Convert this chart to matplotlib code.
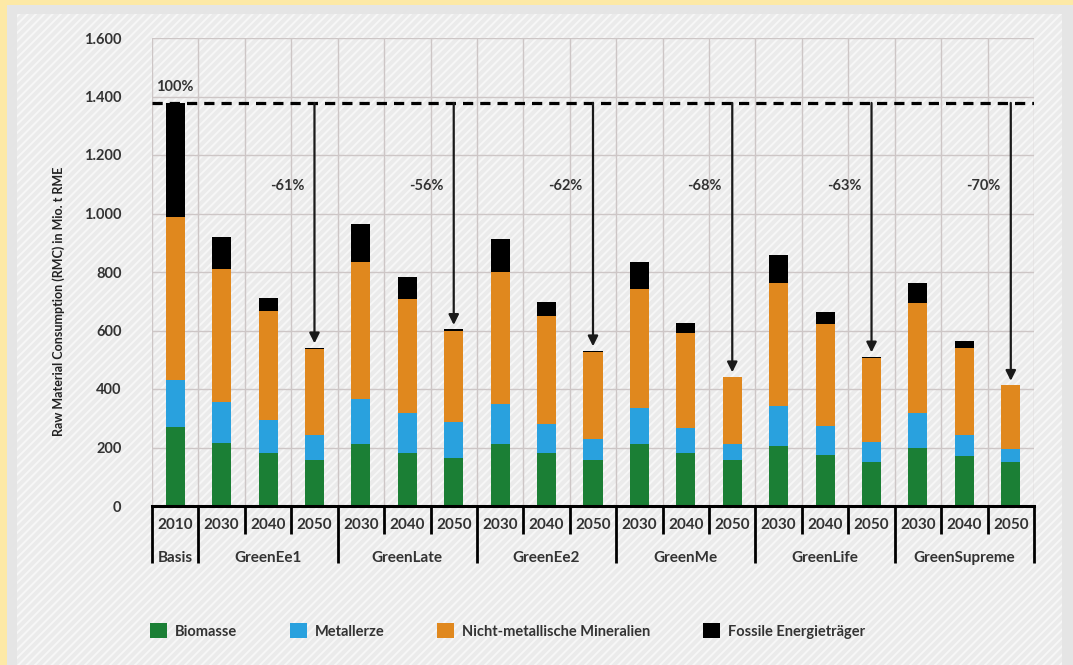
import numpy as np
import matplotlib
matplotlib.use('Agg')
import matplotlib.pyplot as plt
from matplotlib.patches import Rectangle, Patch
from matplotlib.transforms import blended_transform_factory

plt.rcParams['font.family'] = ['Lato', 'DejaVu Sans']
plt.rcParams['hatch.linewidth'] = 1.4

# Daten, Mio. t RME
groups = ['Basis', 'GreenEe1', 'GreenLate', 'GreenEe2', 'GreenMe', 'GreenLife', 'GreenSupreme']
group_sizes = [1, 3, 3, 3, 3, 3, 3]
years = ['2010'] + ['2030', '2040', '2050'] * 6

biomasse = [271, 214, 182, 157, 212, 182, 163, 212, 182, 157, 212, 182, 157, 206, 175, 150, 200, 171, 150]
metallerze = [160, 143, 112, 86, 155, 135, 124, 137, 98, 72, 124, 86, 55, 136, 98, 69, 117, 73, 44]
mineralien = [558, 452, 374, 293, 466, 392, 312, 452, 371, 297, 405, 322, 230, 421, 348, 286, 378, 297, 219]
fossile = [389, 110, 42, 5, 130, 73, 5, 111, 47, 5, 92, 37, 0, 94, 43, 5, 68, 24, 0]

reductions = ['-61%', '-56%', '-62%', '-68%', '-63%', '-70%']
base_label = '100%'
yticks = [0, 200, 400, 600, 800, 1000, 1200, 1400, 1600]
ytick_labels = ['0', '200', '400', '600', '800', '1.000', '1.200', '1.400', '1.600']

series_names = ['Biomasse', 'Metallerze', 'Nicht-metallische Mineralien', 'Fossile Energieträger']
colors = ['#1b7f35', '#29a1de', '#e0881e', '#000000']
text_col = '#333333'

W, H = 1073, 665
fig = plt.figure(figsize=(W / 100, H / 100), dpi=100)
fig.patch.set_facecolor('#fde9a6')

# Hintergrund: grauer Rahmen + schraffierte Fläche
fig.patches.append(Rectangle((7 / W, 0), 1, 1 - 5 / H, transform=fig.transFigure,
                             facecolor='#e5e5e5', edgecolor='none', zorder=-20))
fig.patches.append(Rectangle((17 / W, 0), (1062 - 17) / W, 1 - 14 / H, transform=fig.transFigure,
                             facecolor='#ebebeb', edgecolor='#f7f7f7', lw=0, hatch='////', zorder=-19))

ax = fig.add_axes([152 / W, 1 - 506 / H, (1034 - 152) / W, (506 - 38) / H])
ax.set_facecolor('none')

n = len(years)
x = np.arange(n)
data = np.array([biomasse, metallerze, mineralien, fossile])
bottom = np.zeros(n)
for vals, c in zip(data, colors):
    ax.bar(x, vals, 0.41, bottom=bottom, color=c, zorder=3)
    bottom += vals
totals = bottom

ax.set_xlim(-0.5, n - 0.5)
ax.set_ylim(0, 1600)
ax.set_yticks(yticks)
ax.set_yticklabels(ytick_labels, fontsize=10.5, fontweight='bold', color=text_col)
ax.set_xticks([])
ax.set_xticks(np.arange(-0.5, n, 1), minor=True)
ax.tick_params(axis='both', which='both', length=0)
ax.tick_params(axis='y', pad=22)
ax.grid(axis='y', color='#cdc6c6', lw=1, zorder=0)
ax.grid(axis='x', which='minor', color='#cdc6c6', lw=1, zorder=0)
for s in ['top', 'right', 'left']:
    ax.spines[s].set_visible(False)
ax.spines['bottom'].set_linewidth(2.2)
ax.spines['bottom'].set_zorder(5)

# Basislinie und Pfeile
base = totals[0]
ax.axhline(base, color='black', lw=2.3, ls=(0, (3.2, 2.2)), zorder=6)
ax.text(0, base + 55, base_label, ha='center', va='center', fontsize=10.5,
        fontweight='bold', color=text_col)
ends = np.cumsum(group_sizes) - 1
for lab, idx in zip(reductions, ends[1:]):
    ax.annotate('', xy=(idx, totals[idx] + 15), xytext=(idx, base),
                arrowprops=dict(arrowstyle='-|>', lw=1.6, color='#1a1a1a',
                                mutation_scale=15, shrinkA=0, shrinkB=0), zorder=6)
    ax.text(idx - 0.22, 1094, lab, ha='right', va='center', fontsize=10.5,
            fontweight='bold', color=text_col)

# Kategorienachse (Jahre / Szenarien)
tr = blended_transform_factory(ax.transData, ax.transAxes)
ah = 506 - 38
starts = np.concatenate([[0], np.cumsum(group_sizes)]) - 0.5
for b in np.arange(-0.5, n, 1):
    long = np.any(np.isclose(starts, b))
    y1 = -(57 if long else 28) / ah
    ax.plot([b, b], [0, y1], transform=tr, color='black', lw=2, clip_on=False,
            solid_capstyle='butt')
for i, yr in enumerate(years):
    ax.text(i, -19 / ah, yr, transform=tr, ha='center', va='center', fontsize=11,
            fontweight='bold', color=text_col)
for g, s0, s1 in zip(groups, starts[:-1], starts[1:]):
    ax.text((s0 + s1) / 2, -52 / ah, g, transform=tr, ha='center', va='center',
            fontsize=11, fontweight='bold', color=text_col)

fig.text(59 / W, 1 - 301 / H, 'Raw Material Consumption (RMC) in Mio. t RME', rotation=90,
         ha='center', va='center', fontsize=9, fontweight='bold', color='#222222')

handles = [Patch(facecolor=c, edgecolor='none') for c in colors]
fig.legend(handles, series_names, loc='center left', bbox_to_anchor=(150 / W, 1 - 631 / H),
           ncol=4, frameon=False, fontsize=10.5, handlelength=1.17, handleheight=1.23,
           handletextpad=0.55, columnspacing=3.6, borderpad=0, borderaxespad=0,
           labelcolor=text_col, prop={'weight': 'bold', 'size': 10.5})

fig.savefig('out.png', dpi=100)
